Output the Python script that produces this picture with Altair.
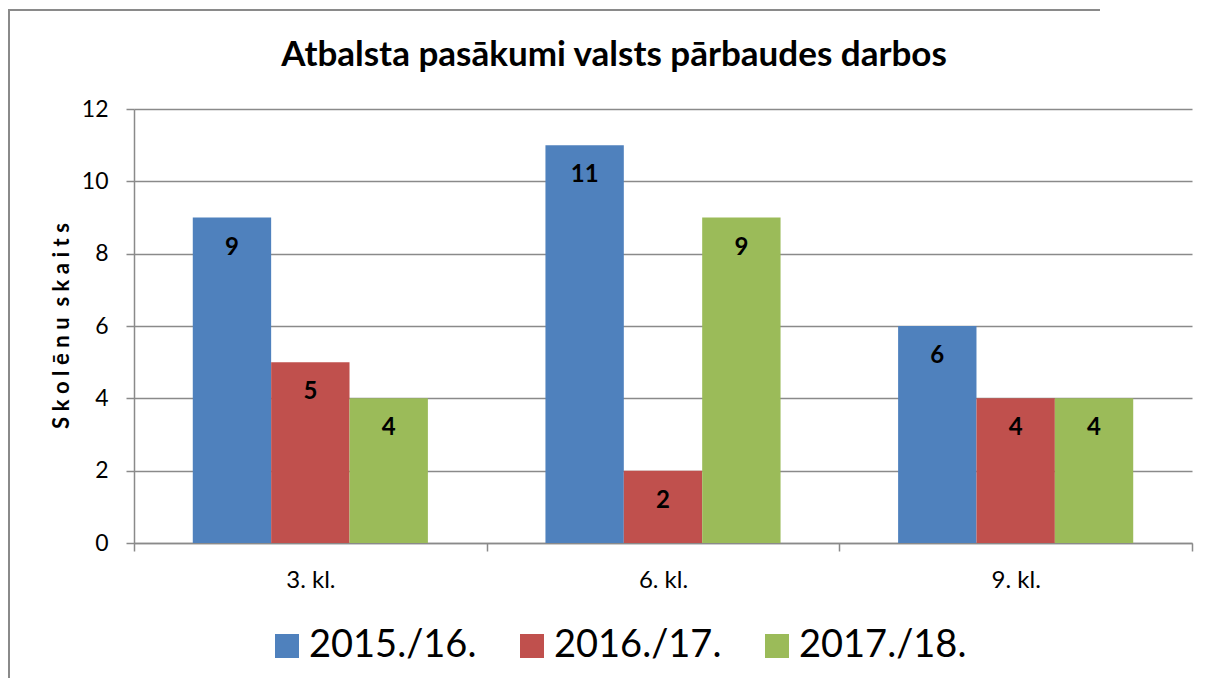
import altair as alt
import pandas as pd

categories = ["3. kl.", "6. kl.", "9. kl."]
series = ["2015./16.", "2016./17.", "2017./18."]
values_2015 = [9, 11, 6]
values_2016 = [5, 2, 4]
values_2017 = [4, 9, 4]
colors = ["#4F81BD", "#C0504D", "#9BBB59"]

rows = []
for s, vals in zip(series, [values_2015, values_2016, values_2017]):
    for c, v in zip(categories, vals):
        rows.append({"klase": c, "gads": s, "skaits": v})
df = pd.DataFrame(rows)
frame_df = pd.DataFrame({"k": [0]})

FONT = "Lato"
GRID = "#8a8a8a"
TS = "\u2009\u2009"
ytitle = TS.join(list("Skolēnu")) + " " + TS + TS.join(list("skaits"))

x_enc = alt.X("klase:N", sort=categories,
              scale=alt.Scale(paddingInner=0, paddingOuter=0),
              axis=alt.Axis(title=None, labelAngle=0, tickBand="extent",
                            labelFontSize=24, labelFont=FONT, labelColor="#000",
                            labelPadding=17, tickSize=8, tickColor=GRID,
                            tickWidth=1.5, domainColor=GRID, domainWidth=1.5,
                            grid=False))
xo_enc = alt.XOffset("gads:N", sort=series,
                     scale=alt.Scale(paddingOuter=0.75, paddingInner=0))
y_enc = alt.Y("skaits:Q", scale=alt.Scale(domain=[0, 12], nice=False),
              axis=alt.Axis(values=[0, 2, 4, 6, 8, 10, 12], title=None,
                            labelFontSize=23, labelFont=FONT, labelColor="#000",
                            labelPadding=18, tickSize=8, tickColor=GRID,
                            tickWidth=1.5, domainColor=GRID, domainWidth=1.5,
                            gridColor=GRID, gridWidth=1.5, gridOpacity=1))

bars = alt.Chart(df).mark_bar().encode(
    x=x_enc, xOffset=xo_enc, y=y_enc,
    color=alt.Color("gads:N", sort=series,
                    scale=alt.Scale(domain=series, range=colors),
                    legend=alt.Legend(title=None, orient="none", direction="horizontal",
                                      legendX=134, legendY=518,
                                      symbolType="square", symbolSize=576,
                                      symbolStrokeWidth=0, symbolOpacity=1,
                                      labelFontSize=38, labelFont=FONT,
                                      labelColor="#000", labelOffset=3,
                                      labelLimit=400, columnPadding=36)),
)

labels = alt.Chart(df).mark_text(font=FONT, fontWeight="bold", fontSize=24,
                                 baseline="middle", dy=30, color="#000").encode(
    x=alt.X("klase:N", sort=categories), xOffset=alt.XOffset("gads:N", sort=series),
    y="skaits:Q", text="skaits:Q")

ytitle_mark = alt.Chart(frame_df).mark_text(font=FONT, fontWeight="bold", fontSize=22,
                                            angle=270, baseline="middle", align="center",
                                            color="#000", clip=False).encode(
    x=alt.value(-72), y=alt.value(217), text=alt.value(ytitle))

border_top = alt.Chart(frame_df).mark_rect(fill=GRID, strokeWidth=0, clip=False).encode(
    x=alt.value(-126), x2=alt.value(966), y=alt.value(-100), y2=alt.value(-98))
border_left = alt.Chart(frame_df).mark_rect(fill=GRID, strokeWidth=0, clip=False).encode(
    x=alt.value(-126), x2=alt.value(-124), y=alt.value(-100), y2=alt.value(576))

chart = alt.layer(border_top, border_left, bars, labels, ytitle_mark).properties(
    width=1058, height=434,
    autosize=alt.AutoSizeParams(type="none"),
    padding={"left": 126, "top": 101, "right": 9, "bottom": 135},
    title=alt.Title("Atbalsta pasākumi valsts pārbaudes darbos", font=FONT,
                    fontSize=35, fontWeight="bold", color="#000",
                    anchor="middle", dx=-49, offset=-64),
).configure_view(stroke=None)

chart.save("out.html", embed_options={"renderer": "svg", "actions": False})
